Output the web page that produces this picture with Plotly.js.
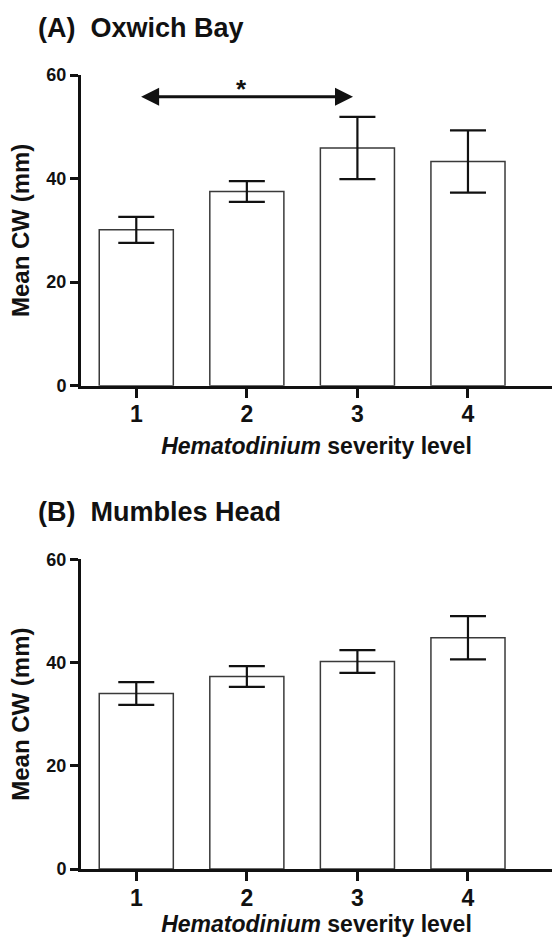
<!DOCTYPE html>
<html>
<head>
<meta charset="utf-8">
<script src="https://cdn.plot.ly/plotly-3.0.1.min.js"></script>
<style>
  html, body { margin: 0; padding: 0; background: #fff; }
  #chart { width: 552px; height: 939px; }
</style>
</head>
<body>
<div id="chart"></div>
<script>
// Data
const severityLevels = [1, 2, 3, 4];
const tickLabels = ['1', '2', '3', '4'];
const oxwichMean = [30.1, 37.5, 45.9, 43.3];
const oxwichErr = [2.5, 2.0, 6.0, 6.0];
const mumblesMean = [34.0, 37.3, 40.2, 44.8];
const mumblesErr = [2.2, 2.0, 2.2, 4.2];
const panelTitles = ['(A)\u00a0\u00a0Oxwich Bay', '(B)\u00a0\u00a0Mumbles Head'];
const yTitle = 'Mean CW (mm)';
const xTitle = '<i>Hematodinium</i> severity level';
const sigFrom = 1, sigTo = 3, sigY = 55.8, sigLabel = '*';

const FONT = 'Liberation Sans, Arial, Helvetica, sans-serif';
const H = 939, W = 552;

function barTrace(y, err, xa, ya) {
  return {
    type: 'bar', x: severityLevels, y: y, xaxis: xa, yaxis: ya,
    width: 0.67,
    marker: { color: '#ffffff', line: { color: '#3a3a3a', width: 1.5 } },
    error_y: { type: 'data', array: err, visible: true, color: '#111', thickness: 2.2, width: 18 },
    hoverinfo: 'x+y', showlegend: false
  };
}

function xAxis(anchor, standoff) {
  return {
    domain: [81 / W, 1], anchor: anchor, range: [0.5, 4.76],
    tickmode: 'array', tickvals: severityLevels, ticktext: tickLabels,
    ticks: 'outside', ticklen: 9, tickwidth: 3, tickcolor: '#111',
    ticklabelstandoff: -3,
    showline: true, linewidth: 3, linecolor: '#111', showgrid: false, zeroline: false,
    tickfont: { family: FONT, size: 23, weight: 'bold', color: '#111' },
    title: { text: xTitle, standoff: standoff, font: { family: FONT, size: 23, weight: 'bold', color: '#111' } },
    automargin: false, fixedrange: true
  };
}
function yAxis(domain, anchor) {
  return {
    domain: domain, anchor: anchor, range: [0, 60],
    tickvals: [0, 20, 40, 60],
    ticks: 'outside', ticklen: 8, tickwidth: 3, tickcolor: '#111',
    showline: true, linewidth: 3, linecolor: '#111', showgrid: false, zeroline: false,
    tickfont: { family: FONT, size: 18, weight: 'bold', color: '#111' },
    title: { text: yTitle, standoff: 10, font: { family: FONT, size: 24, weight: 'bold', color: '#111' } },
    automargin: false, fixedrange: true
  };
}

const data = [
  barTrace(oxwichMean, oxwichErr, 'x', 'y'),
  barTrace(mumblesMean, mumblesErr, 'x2', 'y2')
];

const layout = {
  width: W, height: H,
  margin: { l: 0, r: 0, t: 0, b: 0 },
  paper_bgcolor: '#fff', plot_bgcolor: '#fff',
  font: { family: FONT, color: '#111' },
  showlegend: false,
  xaxis: xAxis('y', 12),
  yaxis: yAxis([1 - 385.7 / H, 1 - 75 / H], 'x'),
  xaxis2: xAxis('y2', 2),
  yaxis2: yAxis([1 - 869 / H, 1 - 559.3 / H], 'x2'),
  annotations: [
    { xref: 'paper', yref: 'paper', x: 36 / W, y: 1 - 28 / H, xanchor: 'left', yanchor: 'middle',
      text: panelTitles[0], showarrow: false, font: { family: FONT, size: 27, weight: 'bold', color: '#111' } },
    { xref: 'paper', yref: 'paper', x: 36 / W, y: 1 - 512 / H, xanchor: 'left', yanchor: 'middle',
      text: panelTitles[1], showarrow: false, font: { family: FONT, size: 27, weight: 'bold', color: '#111' } },
    { xref: 'x', yref: 'y', x: sigTo - 0.04, y: sigY, axref: 'x', ayref: 'y', ax: sigFrom + 0.03, ay: sigY,
      text: '', showarrow: true, arrowside: 'end+start', arrowhead: 2, startarrowhead: 2,
      arrowsize: 1.2, startarrowsize: 1.2, arrowwidth: 3, arrowcolor: '#111', standoff: 0, startstandoff: 0 },
    { xref: 'x', yref: 'y', x: (sigFrom + sigTo) / 2 - 0.05, y: sigY + 1.5, yanchor: 'middle', text: sigLabel,
      showarrow: false, font: { family: FONT, size: 26, weight: 'bold', color: '#111' } }
  ]
};

Plotly.newPlot('chart', data, layout, { displayModeBar: false, staticPlot: true });
</script>
</body>
</html>
